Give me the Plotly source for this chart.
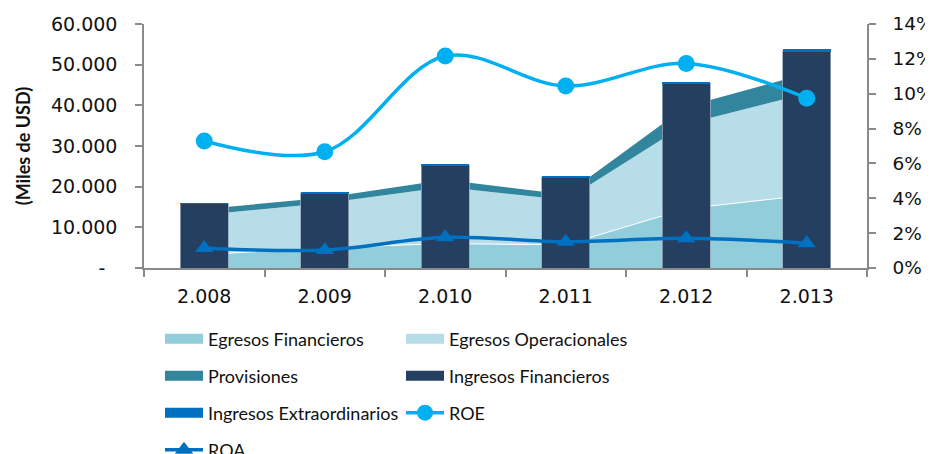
import plotly.graph_objects as go

# ---------------- data ----------------
years = ["2.008", "2.009", "2.010", "2.011", "2.012", "2.013"]

egresos_financieros = [3300, 5000, 6000, 5700, 14600, 17900]
egresos_operacionales = [9800, 10900, 13900, 11050, 20800, 25000]
provisiones = [1400, 1400, 1800, 1300, 4300, 4900]
ingresos_financieros = [15800, 18350, 25100, 22300, 45300, 53200]
ingresos_extraordinarios = [150, 400, 250, 330, 250, 650]
roe = [0.0729, 0.0667, 0.1216, 0.1044, 0.1174, 0.0974]
roa = [0.0115, 0.0103, 0.0176, 0.0151, 0.0170, 0.0142]

left_tickvals = [0, 10000, 20000, 30000, 40000, 50000, 60000]
left_ticktext = ["-\u00a0\u00a0", "10.000", "20.000", "30.000", "40.000", "50.000", "60.000"]

# ---------------- styles ----------------
C_EF = "#92CDDC"
C_EO = "#B7DEE8"
C_PROV = "#31859C"
C_IF = "#253F60"
C_EXTRA = "#0070C0"
C_ROE = "#00B0F0"
C_ROA = "#0070C0"
AXIS = "#8A8A8A"

# page body has an 8px margin, so the figure is 8px smaller than the window
OFF = 8
W, H = 933 - OFF, 454 - OFF
L, R, T, B = 144 - OFF, 66, 24 - OFF, 186

TICK_FONT = dict(family="DejaVu Sans", size=19, color="#111111")
RTICK_FONT = dict(family="DejaVu Sans", size=18.5, color="#111111")
LEG_FONT = dict(family="Lato", size=18, color="#111111")

fig = go.Figure()

# stacked areas (main subplot, drawn below the bars)
fig.add_trace(go.Scatter(x=years, y=egresos_financieros, stackgroup="areas",
                         mode="lines", line=dict(color="white", width=1),
                         fillcolor=C_EF, showlegend=False, name="Egresos Financieros"))
fig.add_trace(go.Scatter(x=years, y=egresos_operacionales, stackgroup="areas",
                         mode="lines", line=dict(color=C_EO, width=0),
                         fillcolor=C_EO, showlegend=False, name="Egresos Operacionales"))
fig.add_trace(go.Scatter(x=years, y=provisiones, stackgroup="areas",
                         mode="lines", line=dict(color=C_PROV, width=0),
                         fillcolor=C_PROV, showlegend=False, name="Provisiones"))

# stacked bars (overlay subplot y2)
fig.add_trace(go.Bar(x=years, y=ingresos_financieros, yaxis="y2", width=0.4,
                     marker=dict(color=C_IF, line=dict(color="rgba(150,165,185,0.8)", width=1)),
                     showlegend=False, name="Ingresos Financieros"))
fig.add_trace(go.Bar(x=years, y=ingresos_extraordinarios, yaxis="y2", width=0.4,
                     marker=dict(color=C_EXTRA, line=dict(width=0)),
                     showlegend=False, name="Ingresos Extraordinarios"))

# legend-only swatches
def swatch(name, color, legend):
    fig.add_trace(go.Scatter(x=[None], y=[None], mode="lines", name=name,
                             line=dict(color=color, width=10), legend=legend,
                             hoverinfo="skip"))

swatch("Egresos Financieros", C_EF, "legend")
swatch("Egresos Operacionales", C_EO, "legend")
swatch("Provisiones", C_PROV, "legend2")
swatch("Ingresos Financieros", C_IF, "legend2")
swatch("Ingresos Extraordinarios", C_EXTRA, "legend3")

# ratio lines (overlay subplot y3, right axis)
fig.add_trace(go.Scatter(x=years, y=roe, yaxis="y3", name="ROE", legend="legend3",
                         mode="lines+markers", line=dict(color=C_ROE, width=3.5, shape="spline"),
                         marker=dict(symbol="circle", size=17, color=C_ROE)))
fig.add_trace(go.Scatter(x=years, y=roa, yaxis="y3", name="ROA", legend="legend4",
                         mode="lines+markers", line=dict(color=C_ROA, width=3.5, shape="spline"),
                         marker=dict(symbol="triangle-up", size=16, color=C_ROA)))

row_y = [339, 376, 413, 450]   # window pixels
leg_x = 160                    # window pixels


def leg(i):
    return dict(orientation="h", xref="container", yref="container",
                x=(leg_x - OFF) / W, y=1 - (row_y[i] - OFF) / H,
                xanchor="left", yanchor="middle",
                font=LEG_FONT, entrywidth=188, entrywidthmode="pixels",
                itemwidth=38, bgcolor="rgba(0,0,0,0)", borderwidth=0,
                traceorder="normal", itemclick=False, itemdoubleclick=False)


fig.update_layout(
    width=W, height=H,
    margin=dict(l=L, r=R, t=T, b=B, autoexpand=False),
    paper_bgcolor="white", plot_bgcolor="white",
    barmode="stack",
    showlegend=True,
    legend=leg(0), legend2=leg(1), legend3=leg(2), legend4=leg(3),
    xaxis=dict(type="category", categoryorder="array", categoryarray=years,
               range=[-0.5, 5.5], showgrid=False, zeroline=False,
               showline=True, linecolor=AXIS, linewidth=1.5,
               ticks="outside", tickson="boundaries", ticklen=7, tickcolor=AXIS,
               tickwidth=1.5, tickfont=TICK_FONT, ticklabelstandoff=10),
    yaxis=dict(range=[0, 60000], tickvals=left_tickvals, ticktext=left_ticktext,
               showgrid=False, zeroline=False, showline=True, linecolor=AXIS,
               linewidth=1.5, ticks="outside", ticklen=7, tickcolor=AXIS, tickwidth=1.5,
               tickfont=TICK_FONT, ticklabelstandoff=14,
               title=dict(text="<b>(Miles de USD)</b>",
                          font=dict(family="Lato", size=18, color="#111111"),
                          standoff=16)),
    yaxis2=dict(range=[0, 60000], overlaying="y", visible=False),
    yaxis3=dict(range=[0, 0.14], overlaying="y", side="right", tickformat=".0%",
                dtick=0.02, tick0=0, showgrid=False, zeroline=False, showline=True,
                linecolor=AXIS, linewidth=1.5, ticks="outside", ticklen=7,
                tickcolor=AXIS, tickwidth=1.5, tickfont=RTICK_FONT,
                ticklabelstandoff=13),
)

fig.write_html("out.html")
